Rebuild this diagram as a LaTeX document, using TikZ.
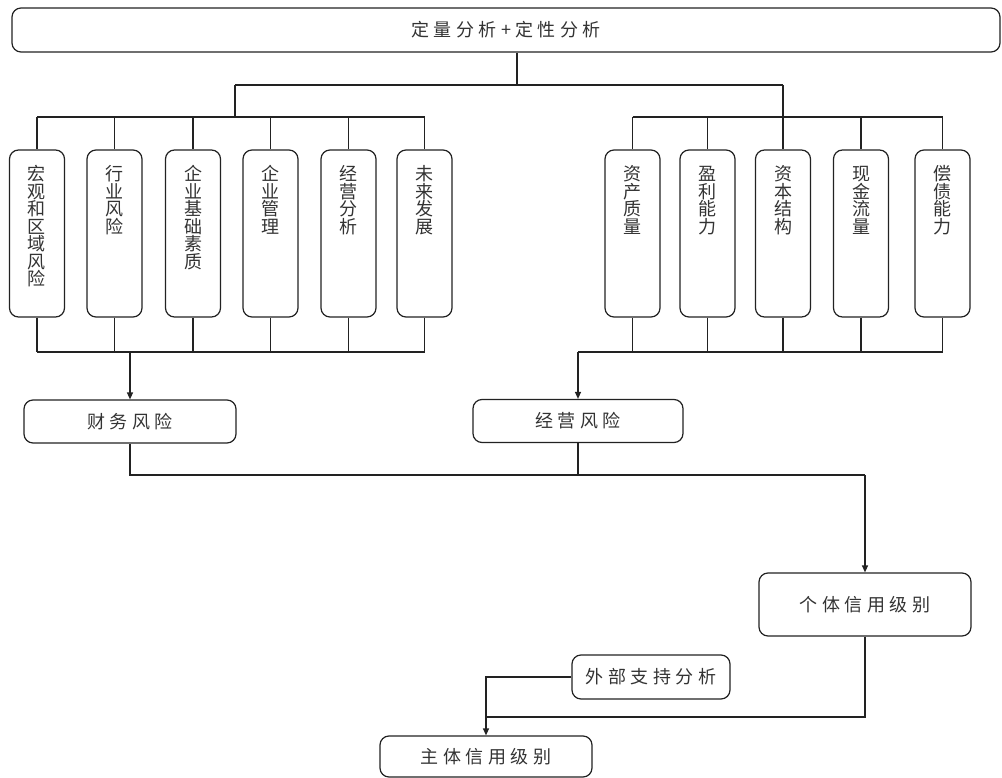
\documentclass[tikz,border=0pt]{standalone}
\usepackage{fontspec}
\setmainfont{Noto Sans CJK SC}
\usetikzlibrary{arrows.meta}
\definecolor{ln}{HTML}{222222}
\definecolor{tx}{HTML}{333333}
\newdimen\lsk \lsk=4.5pt
\def\lspEnd{\lspEnd}
\def\lsp#1{\lspA#1\lspEnd}
\def\lspA#1{\ifx#1\lspEnd\else#1\expandafter\lspB\fi}
\def\lspB#1{\ifx#1\lspEnd\else\kern\lsk#1\expandafter\lspB\fi}
\newcommand\vt[1]{\parbox[c][167pt][t]{50pt}{\centering\fontsize{18}{17.5}\selectfont\rule{0pt}{31pt}#1}}
\begin{document}
\begin{tikzpicture}[x=1pt,y=-1pt,
  box/.style={draw=ln,line width=1.2pt,rounded corners=9pt,inner sep=0pt,text=tx},
  vbox/.style={box,minimum width=55pt,minimum height=167pt},
  hbox/.style={box,font=\fontsize{18}{20}\selectfont},
  conn/.style={draw=ln,line width=1.2pt},
  arr/.style={conn,-{Triangle[length=7pt,width=6pt]}}]
\useasboundingbox (0,0) rectangle (1002,778);

\node[hbox,minimum width=988pt,minimum height=44pt] (top) at (506,30) {\lsp{定量分析+定性分析}};

\node[vbox] (l1) at (37,233.5) {\vt{宏\\观\\和\\区\\域\\风\\险}};
\node[vbox] (l2) at (114.5,233.5) {\vt{行\\业\\风\\险}};
\node[vbox] (l3) at (193,233.5) {\vt{企\\业\\基\\础\\素\\质}};
\node[vbox] (l4) at (270.5,233.5) {\vt{企\\业\\管\\理}};
\node[vbox] (l5) at (348.5,233.5) {\vt{经\\营\\分\\析}};
\node[vbox] (l6) at (424.5,233.5) {\vt{未\\来\\发\\展}};

\node[vbox] (r1) at (632.5,233.5) {\vt{资\\产\\质\\量}};
\node[vbox] (r2) at (707.5,233.5) {\vt{盈\\利\\能\\力}};
\node[vbox] (r3) at (783,233.5) {\vt{资\\本\\结\\构}};
\node[vbox] (r4) at (861,233.5) {\vt{现\\金\\流\\量}};
\node[vbox] (r5) at (942.5,233.5) {\vt{偿\\债\\能\\力}};

\node[hbox,minimum width=212pt,minimum height=43pt] (cw) at (130,421.5) {\lsp{财务风险}};
\node[hbox,minimum width=210pt,minimum height=43pt] (jy) at (578,421) {\lsp{经营风险}};
\node[hbox,minimum width=212pt,minimum height=63pt] (gt) at (865,604.5) {\lsp{个体信用级别}};
\node[hbox,minimum width=158pt,minimum height=44pt] (wb) at (651,677) {\lsp{外部支持分析}};
\node[hbox,minimum width=212pt,minimum height=41pt] (zt) at (486,756.5) {\lsp{主体信用级别}};

\coordinate (j0) at (517,85);
\coordinate (jl) at (235,85);
\coordinate (jr) at (783,85);
\coordinate (jlb) at (235,117);
\coordinate (jrb) at (783,117);
\coordinate (bl) at (0,352);
\coordinate (m) at (0,475);
\coordinate (jz) at (486,717);

\draw[conn] (top.south -| j0) -- (j0);
\draw[conn] (jl) -- (jr);
\draw[conn] (jl) -- (jlb);
\draw[conn] (jr) -- (jrb);
\draw[conn] (l1.north |- jlb) -- (l6.north |- jlb);
\draw[conn] (r1.north |- jrb) -- (r5.north |- jrb);
\foreach \n in {l1,l2,l3,l4,l5,l6} \draw[conn] (\n.north |- jlb) -- (\n.north);
\foreach \n in {r1,r2,r3,r4,r5} \draw[conn] (\n.north |- jrb) -- (\n.north);

\draw[conn] (l1.south |- bl) -- (l6.south |- bl);
\foreach \n in {l1,l2,l3,l4,l5,l6} \draw[conn] (\n.south) -- (\n.south |- bl);
\draw[arr] (cw.north |- bl) -- (cw.north);
\draw[conn] (jy.north |- bl) -- (r5.south |- bl);
\foreach \n in {r1,r2,r3,r4,r5} \draw[conn] (\n.south) -- (\n.south |- bl);
\draw[arr] (jy.north |- bl) -- (jy.north);

\draw[conn] (cw.south) -- (cw.south |- m) -- (gt.north |- m);
\draw[conn] (jy.south) -- (jy.south |- m);
\draw[arr] (gt.north |- m) -- (gt.north);
\draw[conn] (gt.south) |- (jz);
\draw[arr] (wb.west) -| (zt.north);
\end{tikzpicture}
\end{document}
